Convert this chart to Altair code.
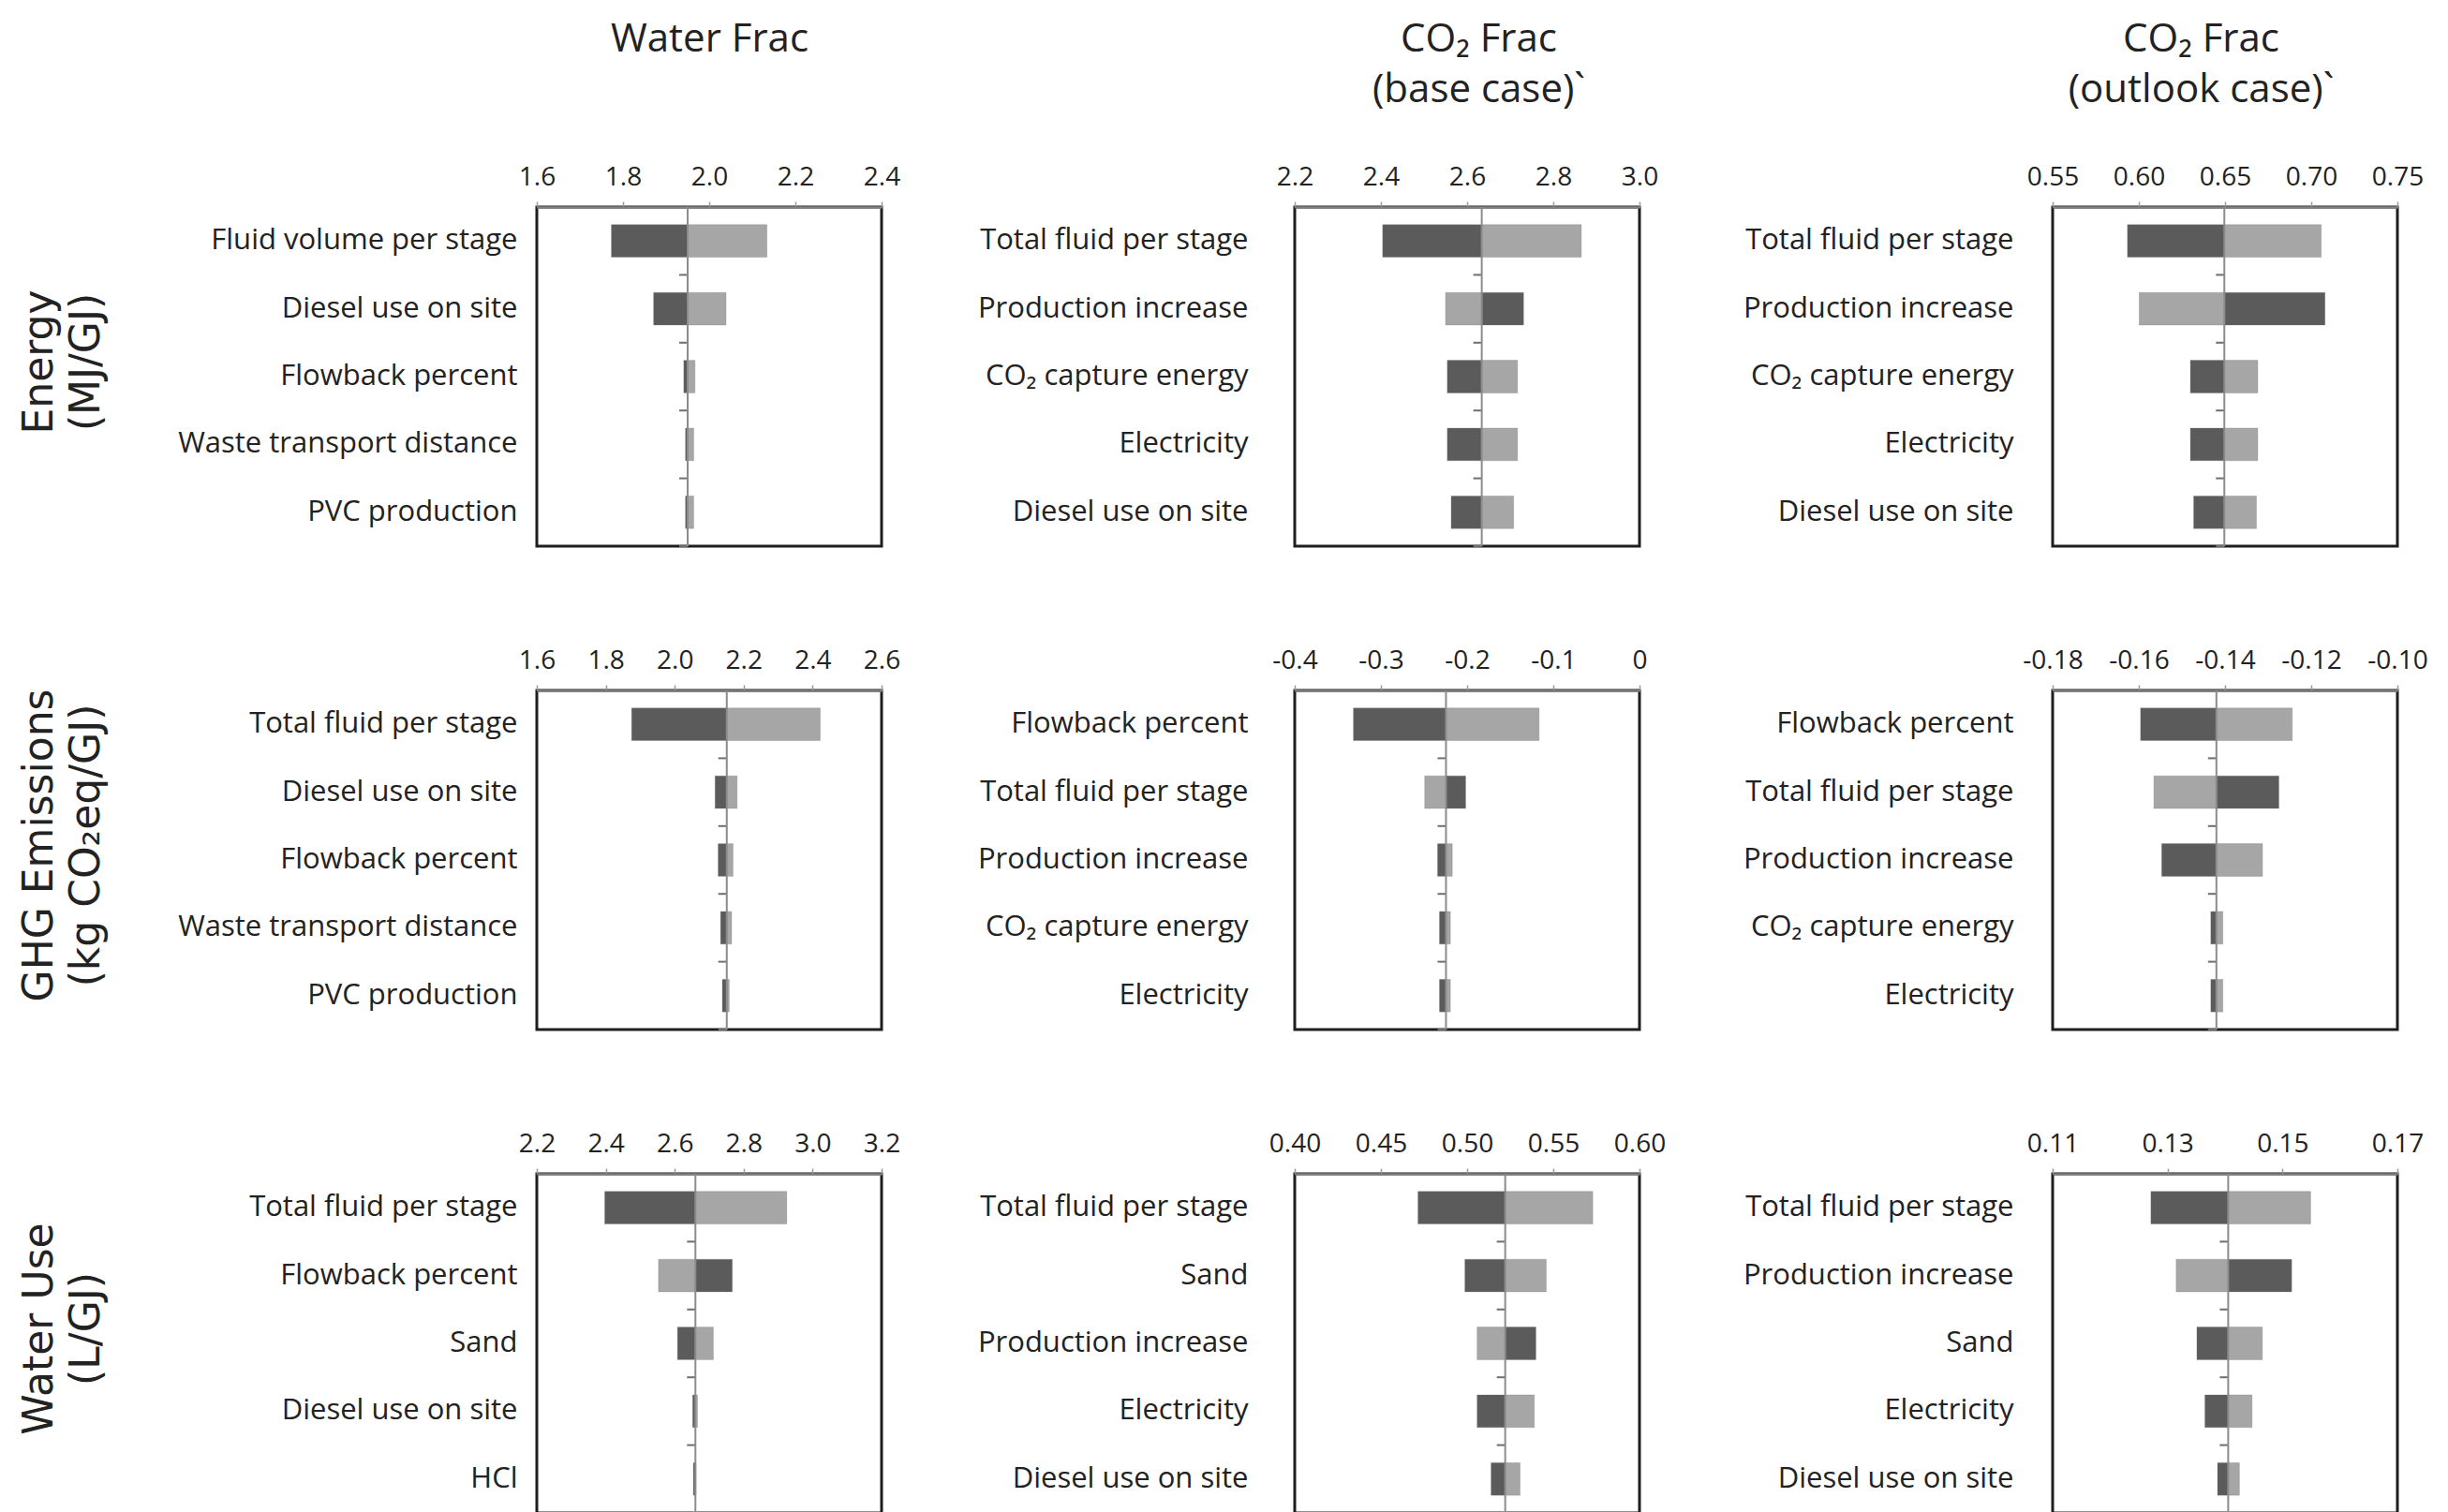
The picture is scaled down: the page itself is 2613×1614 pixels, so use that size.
import altair as alt
import pandas as pd

# ---------------- data ----------------
row_titles = [["Energy", "(MJ/GJ)"], ["GHG Emissions", "(kg CO₂eq/GJ)"], ["Water Use", "(L/GJ)"]]
col_titles = [["Water Frac"], ["CO₂ Frac", "(base case)`"], ["CO₂ Frac", "(outlook case)`"]]

# Energy - Water Frac
ew_cats = ["Fluid volume per stage", "Diesel use on site", "Flowback percent", "Waste transport distance", "PVC production"]
ew_base = 1.95
ew_dark = [1.773, 1.871, 1.941, 1.945, 1.945]
ew_light = [2.134, 2.039, 1.967, 1.964, 1.964]
ew_ticks = [1.6, 1.8, 2.0, 2.2, 2.4]

# Energy - CO2 Frac (base case)
eb_cats = ["Total fluid per stage", "Production increase", "CO₂ capture energy", "Electricity", "Diesel use on site"]
eb_base = 2.634
eb_dark = [2.404, 2.731, 2.554, 2.554, 2.563]
eb_light = [2.865, 2.550, 2.717, 2.717, 2.708]
eb_ticks = [2.2, 2.4, 2.6, 2.8, 3.0]

# Energy - CO2 Frac (outlook case)
eo_cats = ["Total fluid per stage", "Production increase", "CO₂ capture energy", "Electricity", "Diesel use on site"]
eo_base = 0.6496
eo_dark = [0.5934, 0.7080, 0.6299, 0.6299, 0.6318]
eo_light = [0.7058, 0.6002, 0.6690, 0.6690, 0.6682]
eo_ticks = [0.55, 0.60, 0.65, 0.70, 0.75]

# GHG - Water Frac
gw_cats = ["Total fluid per stage", "Diesel use on site", "Flowback percent", "Waste transport distance", "PVC production"]
gw_base = 2.151
gw_dark = [1.875, 2.117, 2.126, 2.133, 2.138]
gw_light = [2.422, 2.181, 2.169, 2.165, 2.158]
gw_ticks = [1.6, 1.8, 2.0, 2.2, 2.4, 2.6]

# GHG - CO2 Frac (base case)
gb_cats = ["Flowback percent", "Total fluid per stage", "Production increase", "CO₂ capture energy", "Electricity"]
gb_base = -0.2245
gb_dark = [-0.3319, -0.2017, -0.2343, -0.2321, -0.2321]
gb_light = [-0.1165, -0.2492, -0.2172, -0.2194, -0.2194]
gb_ticks = [-0.4, -0.3, -0.2, -0.1, 0.0]

# GHG - CO2 Frac (outlook case)
go_cats = ["Flowback percent", "Total fluid per stage", "Production increase", "CO₂ capture energy", "Electricity"]
go_base = -0.1420
go_dark = [-0.1596, -0.1275, -0.1547, -0.1433, -0.1433]
go_light = [-0.1244, -0.1565, -0.1313, -0.1405, -0.1405]
go_ticks = [-0.18, -0.16, -0.14, -0.12, -0.10]

# Water use - Water Frac
ww_cats = ["Total fluid per stage", "Flowback percent", "Sand", "Diesel use on site", "HCl"]
ww_base = 2.660
ww_dark = [2.397, 2.767, 2.608, 2.652, 2.654]
ww_light = [2.925, 2.553, 2.712, 2.666, 2.662]
ww_ticks = [2.2, 2.4, 2.6, 2.8, 3.0, 3.2]

# Water use - CO2 Frac (base case)
wb_cats = ["Total fluid per stage", "Sand", "Production increase", "Electricity", "Diesel use on site"]
wb_base = 0.5221
wb_dark = [0.4715, 0.4987, 0.5399, 0.5058, 0.5139]
wb_light = [0.5729, 0.5459, 0.5058, 0.5390, 0.5307]
wb_ticks = [0.40, 0.45, 0.50, 0.55, 0.60]

# Water use - CO2 Frac (outlook case)
wo_cats = ["Total fluid per stage", "Production increase", "Sand", "Electricity", "Diesel use on site"]
wo_base = 0.14055
wo_dark = [0.1271, 0.1516, 0.1351, 0.1365, 0.1387]
wo_light = [0.1549, 0.1315, 0.1465, 0.1447, 0.1425]
wo_ticks = [0.11, 0.13, 0.15, 0.17]

panels = [
    (ew_cats, ew_base, ew_dark, ew_light, ew_ticks, ".1f"),
    (eb_cats, eb_base, eb_dark, eb_light, eb_ticks, ".1f"),
    (eo_cats, eo_base, eo_dark, eo_light, eo_ticks, ".2f"),
    (gw_cats, gw_base, gw_dark, gw_light, gw_ticks, ".1f"),
    (gb_cats, gb_base, gb_dark, gb_light, gb_ticks, ".1~f"),
    (go_cats, go_base, go_dark, go_light, go_ticks, ".2f"),
    (ww_cats, ww_base, ww_dark, ww_light, ww_ticks, ".1f"),
    (wb_cats, wb_base, wb_dark, wb_light, wb_ticks, ".2f"),
    (wo_cats, wo_base, wo_dark, wo_light, wo_ticks, ".2f"),
]

# ---------------- style ----------------
W, H = 368, 362
STEP = H / 5
LABEL_FONT = "Open Sans"
TXT = "#222222"
label_pad = [21, 50, 42]
title_dx = [0, 12, -26]


def make_panel(idx):
    r, c = divmod(idx, 3)
    cats, base, dark, light, ticks, fmt = panels[idx]
    rows = []
    for i, cat in enumerate(cats):
        rows.append({"cat": cat, "val": dark[i], "series": "dark", "base": base})
        rows.append({"cat": cat, "val": light[i], "series": "light", "base": base})
    df = pd.DataFrame(rows)
    df_cat = pd.DataFrame({"cat": cats, "val": [base] * len(cats), "base": [base] * len(cats)})
    df_base = pd.DataFrame({"val": [base]})

    xaxis_kw = dict(
        orient="top", values=ticks,
        labelExpr="replace(format(datum.value, '%s'), '\u2212', '-')" % fmt,
        labelFlush=False, grid=False,
        domainColor="#808080", domainWidth=2.5,
        tickColor="#9a9a9a", tickSize=6, tickWidth=1.5,
        labelPadding=12, labelFontSize=28, labelFont=LABEL_FONT, labelColor=TXT,
    )
    if r == 0:
        xaxis_kw.update(
            title=col_titles[c], titleFont=LABEL_FONT, titleFontSize=42,
            titleFontWeight="normal", titleColor=TXT,
            titleX=W / 2 + title_dx[c], titleY=-167,
            titleAlign="center", titleBaseline="alphabetic", titleLineHeight=54,
        )
    else:
        xaxis_kw.update(title=None)

    yaxis_kw = dict(
        ticks=False, tickSize=0, domain=False, labelPadding=label_pad[c],
        labelFontSize=31, labelFont=LABEL_FONT, labelColor=TXT, labelLimit=700,
        labelBaseline="middle",
    )
    if c == 0:
        yaxis_kw.update(
            title=row_titles[r], titleFont="DejaVu Sans", titleFontSize=44,
            titleFontWeight="normal", titleColor=TXT, titleAngle=-90,
            titleX=-518, titleY=H / 2 - 16, titleAlign="center",
            titleBaseline="alphabetic", titleLineHeight=50,
        )
    else:
        yaxis_kw.update(title=None)

    xscale = alt.Scale(domain=[ticks[0], ticks[-1]], zero=False, nice=False)
    yscale = alt.Scale(paddingInner=0.52, paddingOuter=0.26)

    def X():
        return alt.X("val:Q", scale=xscale, axis=alt.Axis(**xaxis_kw))

    def Y():
        return alt.Y("cat:N", sort=cats, scale=yscale, axis=alt.Axis(**yaxis_kw))

    bars = alt.Chart(df).mark_bar(stroke="#7a7a7a", strokeWidth=0.6, strokeOpacity=0.5).encode(
        x=X(),
        x2="base:Q",
        y=Y(),
        color=alt.Color("series:N", scale=alt.Scale(domain=["dark", "light"], range=["#5b5b5b", "#a6a6a6"]), legend=None),
    )
    sep = alt.Chart(df_cat).mark_rule(color="#6e6e6e", strokeWidth=2, xOffset=-9, yOffset=STEP / 2).encode(
        x=X(),
        x2="base:Q",
        y=Y(),
    )
    baseline = alt.Chart(df_base).mark_rule(color="#8c8c8c", strokeWidth=2).encode(
        x=X(),
    )
    return alt.layer(bars, sep, baseline).properties(width=W, height=H)


charts = [make_panel(i) for i in range(9)]

chart = alt.concat(
    *charts, columns=3, spacing={"row": 154, "column": 441}, bounds="flush"
).resolve_scale(
    x="independent", y="independent"
).properties(
    padding={"left": 10, "top": 10, "right": 0, "bottom": 0},
    background="white",
).configure_view(
    stroke="#1e1e1e", strokeWidth=3
)

chart.save("out.html", embed_options={"renderer": "svg", "actions": False})
